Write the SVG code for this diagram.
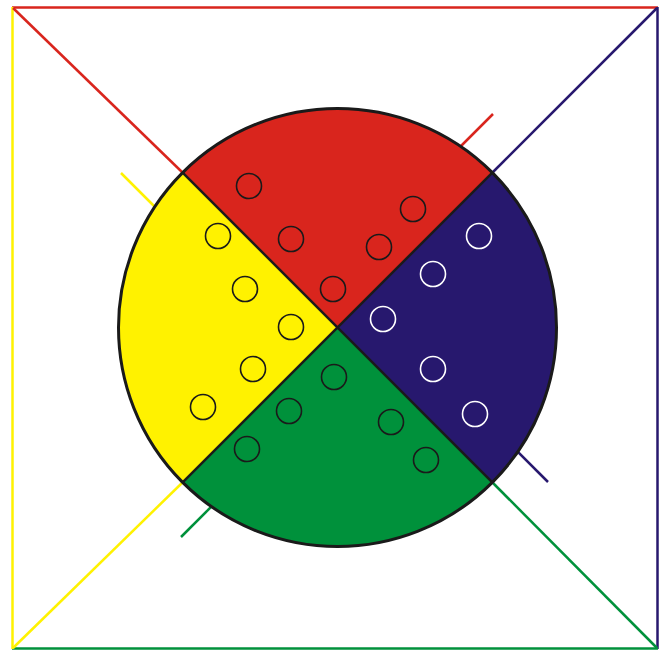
<svg xmlns="http://www.w3.org/2000/svg" width="665" height="650" viewBox="0 0 665 650">
<style>
.ln{stroke-width:2.5;fill:none;stroke-linecap:butt}
.r{stroke:#d9251d}.y{stroke:#fff200}.b{stroke:#27186e}.g{stroke:#00913b}
.dot{fill:none;stroke:#1a1a1a;stroke-width:1.6}
.dotw{fill:none;stroke:#ffffff;stroke-width:1.6}
</style>
<rect width="665" height="650" fill="#ffffff"/>
<g id="frame">
<line class="ln r" x1="12" y1="7.5" x2="658" y2="7.5"/>
<line class="ln b" x1="657.5" y1="7" x2="657.5" y2="649"/>
<line class="ln g" x1="12" y1="648.5" x2="658" y2="648.5"/>
<line class="ln y" x1="12.5" y1="7" x2="12.5" y2="649"/>
</g>
<g id="connectors">
<line class="ln r" x1="13" y1="8" x2="183" y2="173"/>
<line class="ln b" x1="657" y1="8" x2="492" y2="173"/>
<line class="ln y" x1="13" y1="648" x2="183" y2="482"/>
<line class="ln g" x1="657" y1="648" x2="492" y2="482"/>
<line class="ln y" x1="121" y1="173" x2="165" y2="217"/>
<line class="ln r" x1="493" y1="114" x2="450" y2="157"/>
<line class="ln b" x1="548" y1="482" x2="505" y2="439"/>
<line class="ln g" x1="181" y1="537" x2="224" y2="494"/>
</g>
<g id="disc">
<path id="sector-red" d="M337.5 327.5 L182.64 172.64 A219 219 0 0 1 492.36 172.64 Z" fill="#d9251d"/>
<path id="sector-blue" d="M337.5 327.5 L492.36 172.64 A219 219 0 0 1 492.36 482.36 Z" fill="#27186e"/>
<path id="sector-green" d="M337.5 327.5 L492.36 482.36 A219 219 0 0 1 182.64 482.36 Z" fill="#00913b"/>
<path id="sector-yellow" d="M337.5 327.5 L182.64 482.36 A219 219 0 0 1 182.64 172.64 Z" fill="#fff200"/>
<line x1="182.64" y1="172.64" x2="492.36" y2="482.36" stroke="#1a1a1a" stroke-width="2.5"/>
<line x1="492.36" y1="172.64" x2="182.64" y2="482.36" stroke="#1a1a1a" stroke-width="2.5"/>
<circle cx="337.5" cy="327.5" r="219" fill="none" stroke="#1a1a1a" stroke-width="3"/>
</g>
<g id="dots-red">
<circle class="dot" cx="249" cy="186" r="12.5"/>
<circle class="dot" cx="291" cy="239" r="12.5"/>
<circle class="dot" cx="413" cy="209" r="12.5"/>
<circle class="dot" cx="379" cy="247" r="12.5"/>
<circle class="dot" cx="333" cy="289" r="12.5"/>
</g>
<g id="dots-yellow">
<circle class="dot" cx="218" cy="236" r="12.5"/>
<circle class="dot" cx="245" cy="289" r="12.5"/>
<circle class="dot" cx="291" cy="327" r="12.5"/>
<circle class="dot" cx="253" cy="369" r="12.5"/>
<circle class="dot" cx="203" cy="407" r="12.5"/>
</g>
<g id="dots-blue">
<circle class="dotw" cx="479" cy="236" r="12.5"/>
<circle class="dotw" cx="433" cy="274" r="12.5"/>
<circle class="dotw" cx="383" cy="319" r="12.5"/>
<circle class="dotw" cx="433" cy="369" r="12.5"/>
<circle class="dotw" cx="475" cy="414" r="12.5"/>
</g>
<g id="dots-green">
<circle class="dot" cx="334" cy="377" r="12.5"/>
<circle class="dot" cx="289" cy="411" r="12.5"/>
<circle class="dot" cx="391" cy="422" r="12.5"/>
<circle class="dot" cx="247" cy="449" r="12.5"/>
<circle class="dot" cx="426" cy="460" r="12.5"/>
</g>
</svg>
